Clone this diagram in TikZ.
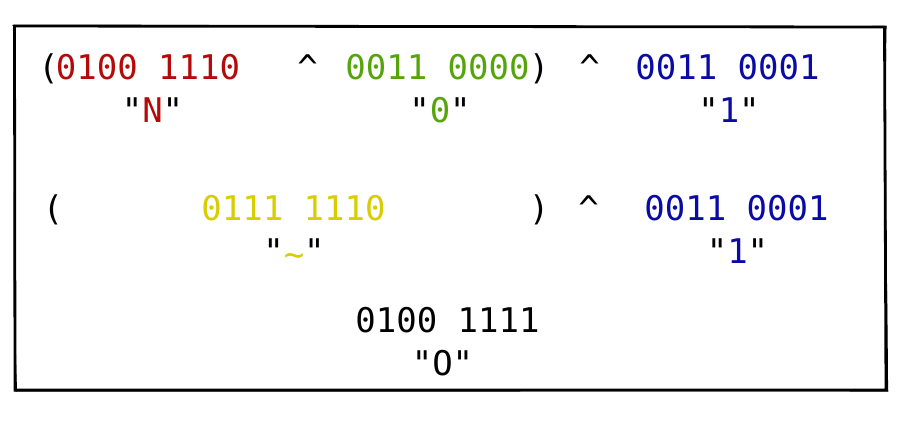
\documentclass[tikz,border=0pt]{standalone}
\usepackage{fontspec}
\setmonofont{DejaVu Sans Mono}
\definecolor{cred}{RGB}{180,10,10}
\definecolor{cgreen}{RGB}{85,165,10}
\definecolor{cblue}{RGB}{10,10,165}
\definecolor{cyellow}{RGB}{215,205,0}
\tikzset{
  txt/.style={anchor=base, inner sep=0pt, font=\ttfamily\fontsize{34}{40}\selectfont},
  bord/.style={line width=2.8pt, line cap=round, line join=round, black},
  bordthin/.style={line width=1.1pt, line cap=round, black}
}
\begin{document}
\begin{tikzpicture}[x=1pt,y=-1pt]
\useasboundingbox (0,0) rectangle (900,432);
% hand drawn frame
\coordinate (tl) at (14.5,26);
\coordinate (tr) at (884.5,27);
\coordinate (br) at (886,390);
\coordinate (bl) at (15,390);
\draw[bord] (tl) -- (tr) -- (br) -- (bl) -- cycle;
\draw[bordthin] (13,25.5) .. controls (300,25) and (600,27.5) .. (886,26.5);
\draw[bordthin] (886,26) .. controls (883.5,150) and (887,280) .. (887.5,391);
\draw[bordthin] (888,391) .. controls (600,390.5) and (300,391.5) .. (14,391);
\draw[bordthin] (16.5,391) .. controls (12.5,280) and (16,150) .. (14,25);
% row 1
\node[txt] (p1) at (48.5,79) {(};
\node[txt, text=cred] (a1) at (148,79) {0100 1110};
\node[txt] (x1) at (307.5,79) {\textasciicircum};
\node[txt, text=cgreen] (b1) at (437.5,79) {0011 0000};
\node[txt] (q1) at (539,79) {)};
\node[txt] (x2) at (589.5,79) {\textasciicircum};
\node[txt, text=cblue] (c1) at (727.5,79) {0011 0001};
\node[txt] (a1l) at (152.5,122) {"\textcolor{cred}{N}"};
\node[txt] (b1l) at (440,122) {"\textcolor{cgreen}{0}"};
\node[txt] (c1l) at (729,122) {"\textcolor{cblue}{1}"};
% row 2
\node[txt] (p2) at (53,220) {(};
\node[txt, text=cyellow] (d2) at (293.5,220) {0111 1110};
\node[txt] (q2) at (539,220) {)};
\node[txt] (x3) at (588.5,220) {\textasciicircum};
\node[txt, text=cblue] (c2) at (736.5,220) {0011 0001};
\node[txt] (d2l) at (294,263) {"\raisebox{-3pt}{\textcolor{cyellow}{\textasciitilde}}"};
\node[txt] (c2l) at (737.5,263) {"\textcolor{cblue}{1}"};
% row 3
\node[txt] (r3) at (447.5,332) {0100 1111};
\node[txt] (r3l) at (442.5,375) {"O"};
\end{tikzpicture}
\end{document}
